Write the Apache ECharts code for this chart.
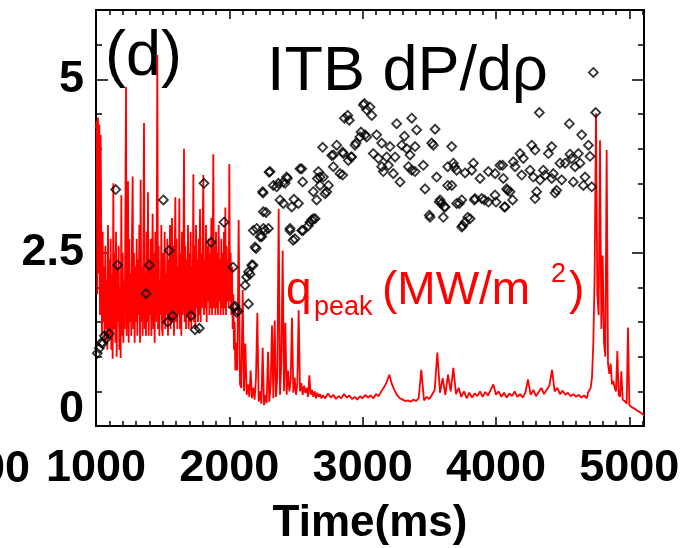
<!DOCTYPE html>
<html>
<head>
<meta charset="utf-8">
<script src="https://cdn.jsdelivr.net/npm/echarts@6/dist/echarts.min.js"></script>
<style>html,body{margin:0;padding:0;background:#fff}#c{width:682px;height:548px}</style>
</head>
<body>
<div id="c"></div>
<script>
// ---- data ----
const xTicks = [1000, 2000, 3000, 4000, 5000];
const yTicks = [0, 2.5, 5];

// q_peak (MW/m^2): sampled segments [start time, step (ms), values]
const qA_start = 1000, qA_step = 5;
const qA = [
  4.3,4.4,1.9,4.45,2.2,4.35,1.6,4.2,2.5,1.3,2.8,1.5,2.3,1.2,2.6,1.4,2.1,1.1,2.9,1.3,
  2.4,1.3,2.7,1.1,2.2,0.97,3.5,1.4,2.5,1.2,2.8,1.0,2.3,1.5,2.6,1.1,2.0,0.98,3.33,1.3,
  2.5,1.2,2.1,1.4,2.9,4.89,1.3,2.4,3.53,1.2,2.7,1.5,2.2,1.3,2.8,3.6,1.4,2.5,1.2,2.3,
  1.5,2.7,1.3,2.4,1.6,2.9,1.2,3.55,1.5,2.3,1.3,2.6,4.37,1.4,2.2,1.3,2.8,1.5,3.37,1.3,
  2.4,1.6,2.7,1.3,2.2,3.06,1.4,2.5,1.2,2.8,1.5,2.3,5.35,1.4,2.6,1.3,2.1,1.6,2.9,1.4,
  1.3,2.5,1.5,2.8,1.4,2.2,1.6,2.7,1.3,2.4,1.5,2.9,1.4,2.3,3.0,1.5,2.6,1.3,2.4,3.3,
  1.5,2.7,1.4,2.3,1.6,3.28,1.4,2.5,1.3,2.8,1.6,2.2,4.0,1.5,2.6,1.4,2.4,1.6,2.9,1.4,
  2.5,1.5,2.8,1.4,2.3,1.6,3.63,1.5,2.6,1.4,2.9,1.7,2.4,1.5,2.7,1.6,3.13,1.5,2.5,1.7,
  2.8,3.62,1.6,2.4,1.7,2.9,1.5,2.6,1.8,2.7,1.6,2.5,1.7,3.0,1.6,2.4,3.92,1.7,2.6,1.6,
  2.8,1.7,2.5,1.6,2.9,1.8,2.4,1.6,2.7,1.7,2.5,1.6,2.8,1.7,3.15,1.6,2.6,1.8,2.4,1.7,
  3.78,1.8,2.5,1.6,2.3,1.4,1.9,1.1,1.5,0.8,1.2
];
const qB_start = 2060, qB_step = 10;
const qB = [
  0.8,2.97,0.6,0.55,1.96,0.5,1.19,0.45,0.6,0.42,
  0.8,0.4,0.55,0.38,0.7,1.63,0.35,0.5,0.32,1.13,
  0.3,0.45,0.33,1.07,0.35,0.6,1.45,0.4,1.52,0.42,
  0.7,3.13,0.45,0.9,2.53,0.5,1.49,0.45,0.8,0.5,
  0.65,1.56,0.48,0.7,0.45,0.6,1.67,0.5,0.62,0.45,
  0.58,0.48,0.55,0.42,0.73,0.45,0.52,0.42,0.5,0.4,
  0.48,0.42,0.46,0.4
];
const qC_start = 2700, qC_step = 20;
const qC = [
  0.44,0.40,0.47,0.41,0.45,0.39,0.43,0.40,0.46,0.41,
  0.44,0.39,0.42,0.38,0.43,0.40,0.45,0.41,0.44,0.40,
  0.46,0.43,0.50,0.56,0.63,0.74,0.60,0.51,0.44,0.40,
  0.38,0.36,0.37,0.35,0.38,0.36,0.40,0.81,0.37,0.42,
  0.39,0.45,0.52,1.06,0.48,0.69,0.45,0.74,0.50,0.84,
  0.46,0.55,0.42,0.50,0.40,0.48,0.41,0.47,0.43,0.50,
  0.42,0.49,0.44,0.52,0.60,0.45,0.50,0.42,0.48,0.41,
  0.47,0.43,0.50,0.42,0.46,0.41,0.48,0.67,0.45,0.52,
  0.43,0.49,0.55,0.46,0.52,0.58,0.81,0.50,0.55,0.46,
  0.51,0.45,0.48,0.43,0.46,0.42,0.45,0.41,0.44,0.40
];
const qD_start = 4690, qD_step = 10;
const qD = [
  0.48,0.5,0.55,0.7,1.2,2.2,4.51,1.9,1.6,4.12,
  1.4,2.46,1.2,1.0,3.98,0.9,0.75,0.9,0.6,0.65,
  0.55,0.5,1.08,0.45,0.42,0.79,0.38,0.36,0.35,0.32,
  1.42,0.3,0.28,0.27,0.26,0.25,0.24,0.22,0.21,0.2,
  0.19,0.17,0.15
];

// ITB dP/drho diamonds
const dpTime = [
  1010,1025,1040,1050,1062,1075,1098,1148,1163,1375,1400,1505,1538,1548,1575,1713,1743,1775,1810,1863,1960,2028,2035,2043,2055,2065,
  2118,2130,2143,2143,2155,2168,2178,2193,2200,2180,2205,2230,2243,2255,2268,2293,2250,2255,2253,2275,2298,2305,2330,2355,2368,2380,
  2405,2405,2418,2430,2435,2455,2455,2468,2478,2485,2493,2518,2530,2543,2543,2550,2553,2593,2605,2618,2630,2630,2643,2655,2660,2668,
  2680,2680,2700,2705,2718,2730,2743,2768,2780,2780,2805,2830,2850,2850,2855,2863,2888,2893,2900,2913,2918,2943,2950,2980,2988,3005,
  3013,3018,3030,3030,3055,3068,3080,3105,3118,3143,3143,3155,3180,3193,3205,3230,3243,3255,3280,3293,3313,3330,3343,3355,3368,3368,
  3393,3393,3405,3455,3468,3500,3505,3518,3530,3543,3555,3575,3580,3593,3605,3613,3618,3638,3638,3668,3668,3680,3688,3705,3705,3725,
  3743,3743,3750,3768,3768,3788,3805,3818,3830,3838,3843,3880,3893,3913,3943,3943,3993,3993,4000,4030,4050,4055,4063,4068,4080,4088,
  4105,4125,4130,4143,4180,4193,4205,4255,4268,4280,4293,4293,4305,4325,4330,4355,4368,4393,4418,4418,4430,4443,4455,4480,4493,4518,
  4550,4555,4568,4580,4593,4618,4630,4643,4655,4668,4693,4705,4718,4730,4748
];
const dpValue = [
  1.05,1.12,1.2,1.19,1.3,1.26,1.33,3.41,2.32,1.91,2.32,3.26,1.5,2.53,1.59,1.59,1.39,1.41,3.5,2.65,2.94,2.29,1.71,1.73,1.64,1.66,
  2.03,2.15,1.76,2.22,2.19,2.32,2.32,2.58,2.56,2.82,2.85,2.73,2.73,2.85,2.82,2.85,3.38,3.09,3.36,3.08,3.66,3.67,3.47,3.45,3.5,3.26,
  3.21,3.52,3.5,3.59,3.57,2.82,2.85,3.16,2.68,3.27,2.7,3.21,3.71,3.71,2.82,3.52,2.82,2.89,2.94,2.97,3.38,2.99,2.99,3.26,3.57,3.67,
  3.47,3.59,4.02,3.59,3.35,3.38,3.47,3.9,3.74,3.91,4.05,3.64,3.62,3.95,3.93,4.44,4.48,3.83,4.41,3.88,3.88,4.05,4.08,4.17,4.24,4.63,
  4.65,4.2,4.56,4.17,4.6,4.48,3.93,4.2,3.86,4.08,3.74,3.67,3.88,3.76,4.03,3.64,3.88,4.36,3.52,4.05,4.18,4.0,3.74,3.91,4.44,3.69,
  4.03,3.67,4.27,3.76,3.42,3.04,3.01,4.08,4.05,4.28,3.59,3.23,3.26,3.21,3.01,3.16,3.16,3.74,3.47,4.03,3.47,3.79,3.74,3.69,3.21,3.21,
  3.26,2.87,2.89,3.65,2.94,3.01,2.99,3.69,3.79,3.26,3.28,3.57,3.28,3.26,3.67,3.23,3.64,3.33,3.23,3.76,3.76,3.57,3.16,3.16,3.42,3.4,
  3.38,3.26,3.81,3.74,3.93,3.62,3.86,3.69,4.05,3.59,3.98,3.28,3.38,4.52,3.55,3.69,3.62,3.93,4.03,3.57,3.64,3.36,3.4,3.79,3.55,3.79,
  4.36,3.92,3.86,3.52,3.74,3.93,3.79,4.2,3.47,3.59,4.05,3.89,3.45,5.1,4.52
];

// ---- build series data ----
function seg(start, step, vals) { return vals.map((v, i) => [start + i * step, v]); }
const qData = [].concat(
  seg(qA_start, qA_step, qA), seg(qB_start, qB_step, qB),
  seg(qC_start, qC_step, qC), seg(qD_start, qD_step, qD));
const dpData = dpTime.map((t, i) => [t, dpValue[i]]);

const FONT = '"Liberation Sans", Arial, Helvetica, sans-serif';
const XMIN = 1000, XMAX = 5110, YMIN = 0, YMAX = 6;
function tick(len) { return { show: true, inside: true, length: len, lineStyle: { color: '#000', width: 1.5 } }; }
function line(show) { return { show: show, onZero: false, lineStyle: { color: '#000', width: 2 } }; }
const noLabel = { show: true, formatter: () => '' };

const xAxes = [
  { type: 'value', position: 'bottom', min: XMIN, max: XMAX, interval: 1000,
    axisLine: line(true), axisTick: tick(9), splitLine: { show: false },
    axisLabel: { show: true, color: '#000', fontFamily: FONT, fontWeight: 'bold', fontSize: 45, margin: 20,
      formatter: v => xTicks.indexOf(v) >= 0 ? String(v) : '' },
    name: 'Time(ms)', nameLocation: 'middle', nameGap: 76,
    nameTextStyle: { fontFamily: FONT, fontWeight: 'bold', fontSize: 44, color: '#000' } },
  { type: 'value', position: 'bottom', min: XMIN, max: XMAX, interval: 100,
    axisLine: line(false), axisTick: tick(5), axisLabel: noLabel, splitLine: { show: false } },
  { type: 'value', position: 'top', min: XMIN, max: XMAX, interval: 1000,
    axisLine: line(true), axisTick: tick(9), axisLabel: noLabel, splitLine: { show: false } },
  { type: 'value', position: 'top', min: XMIN, max: XMAX, interval: 100,
    axisLine: line(false), axisTick: tick(5), axisLabel: noLabel, splitLine: { show: false } }
];
const yAxes = [
  { type: 'value', position: 'left', min: YMIN, max: YMAX, interval: 2.5,
    axisLine: line(true), axisTick: tick(12), splitLine: { show: false },
    axisLabel: { show: true, color: '#000', fontFamily: FONT, fontWeight: 'bold', fontSize: 45, margin: 12,
      formatter: v => yTicks.indexOf(v) < 0 ? '' : (v === 0 ? '{z|0}' : String(v)),
      rich: { z: { fontFamily: FONT, fontWeight: 'bold', fontSize: 45, color: '#000', padding: [0, 0, 32, 0] } } } },
  { type: 'value', position: 'left', min: YMIN, max: YMAX, interval: 0.5,
    axisLine: line(false), axisTick: tick(6), axisLabel: noLabel, splitLine: { show: false } },
  { type: 'value', position: 'right', min: YMIN, max: YMAX, interval: 2.5,
    axisLine: line(true), axisTick: tick(12), axisLabel: noLabel, splitLine: { show: false } },
  { type: 'value', position: 'right', min: YMIN, max: YMAX, interval: 0.5,
    axisLine: line(false), axisTick: tick(6), axisLabel: noLabel, splitLine: { show: false } }
];

const chart = echarts.init(document.getElementById('c'), null, { renderer: 'canvas' });
chart.setOption({
  animation: false,
  backgroundColor: '#fff',
  grid: { left: 96, right: 38, top: 10, bottom: 122, outerBoundsMode: 'none',
          show: true, borderColor: '#000', borderWidth: 2, backgroundColor: 'transparent' },
  xAxis: xAxes,
  yAxis: yAxes,
  series: [
    {
      type: 'line', data: qData, xAxisIndex: 0, yAxisIndex: 0, showSymbol: false, symbol: 'none',
      lineStyle: { color: '#ff0000', width: 1.8 }, z: 2, clip: true
    },
    {
      type: 'scatter', data: dpData, xAxisIndex: 2, yAxisIndex: 2, symbol: 'diamond', symbolSize: 9,
      itemStyle: { color: 'rgba(0,0,0,0)', borderColor: '#000', borderWidth: 1.8 }, z: 3
    }
  ],
  graphic: [
    { type: 'text', x: 105, y: 58, style: { text: '(d)', font: '63px ' + FONT, fill: '#000', align: 'left', verticalAlign: 'middle' } },
    { type: 'text', x: 267, y: 73, style: { text: 'ITB dP/dρ', font: '63px ' + FONT, fill: '#000', align: 'left', verticalAlign: 'middle' } },
    { type: 'text', x: 286, y: 291, style: { text: 'q', font: '46px ' + FONT, fill: '#ff0000', align: 'left', verticalAlign: 'middle' } },
    { type: 'text', x: 314, y: 308, style: { text: 'peak', font: '27px ' + FONT, fill: '#ff0000', align: 'left', verticalAlign: 'middle' } },
    { type: 'text', x: 382, y: 291, style: { text: '(MW/m', font: '46px ' + FONT, fill: '#ff0000', align: 'left', verticalAlign: 'middle' } },
    { type: 'text', x: 551, y: 275, style: { text: '2', font: '27px ' + FONT, fill: '#ff0000', align: 'left', verticalAlign: 'middle' } },
    { type: 'text', x: 569, y: 291, style: { text: ')', font: '46px ' + FONT, fill: '#ff0000', align: 'left', verticalAlign: 'middle' } },
    { type: 'text', x: 30, y: 470, style: { text: '000', font: 'bold 45px ' + FONT, fill: '#000', align: 'right', verticalAlign: 'middle' } }
  ]
});
</script>
</body>
</html>
